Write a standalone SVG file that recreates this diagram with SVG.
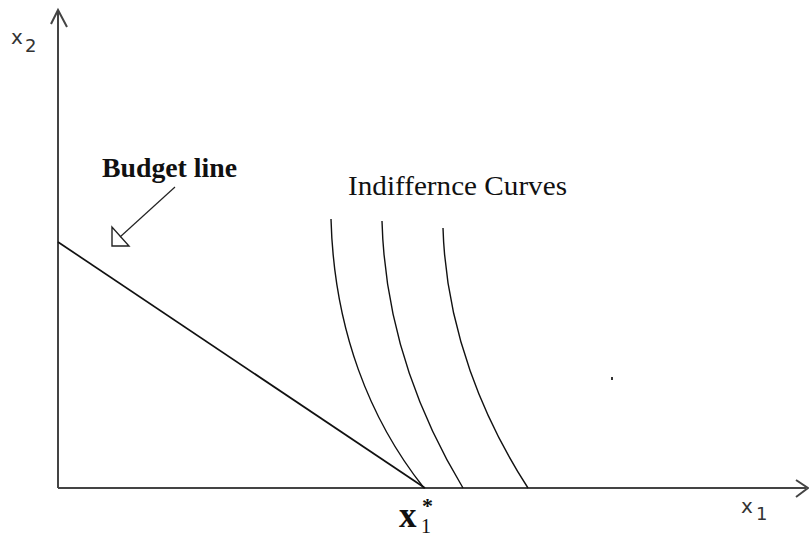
<svg xmlns="http://www.w3.org/2000/svg" width="809" height="537" viewBox="0 0 809 537">
<style>
.axis{stroke:#444;stroke-width:2;fill:none}
.curve{stroke:#111;stroke-width:1.4;fill:none}
.sans{font-family:"DejaVu Sans","Open Sans",sans-serif;fill:#333}
.serif{font-family:"Liberation Serif","Times New Roman",serif;fill:#111}
</style>
<rect width="809" height="537" fill="#fff"/>
<g id="axes">
<line class="axis" x1="58" y1="11" x2="58" y2="488"/>
<polyline class="axis" stroke-width="1.4" points="51,24 58,10 67,27"/>
<line class="axis" x1="58" y1="488" x2="806" y2="488"/>
<polyline class="axis" stroke-width="1.4" points="796,480 808,488 796,497"/>
</g>
<g id="labels">
<text class="sans" x="11" y="44" font-size="20">x</text>
<text class="sans" x="25" y="52" font-size="18">2</text>
<text class="sans" x="741" y="513" font-size="20">x</text>
<text class="sans" x="756" y="520" font-size="18">1</text>
<text class="serif" x="399" y="527" font-size="35" font-weight="bold">x</text>
<text class="serif" x="421" y="533" font-size="20">1<tspan x="422" y="513" font-size="22" font-weight="bold">*</tspan></text>
</g>
<g id="connectors">
<line id="budget-line" x1="58" y1="242" x2="425" y2="488" stroke="#111" stroke-width="1.7"/>
<path id="ic1" class="curve" d="M331,219 C334,330 370,420 424,488"/>
<path id="ic2" class="curve" d="M382,221 C385,330 422,420 463,488"/>
<path id="ic3" class="curve" d="M443,228 C446,330 484,420 528,488"/>
</g>
<g id="budget-label">
<text class="serif" x="102" y="177" font-size="27.5" font-weight="bold" textLength="135" lengthAdjust="spacingAndGlyphs">Budget line</text>
<line x1="175" y1="187" x2="120" y2="237" stroke="#222" stroke-width="1.2"/>
<polygon points="112,227 112,246 129,246" fill="none" stroke="#222" stroke-width="1.4"/>
</g>
<g id="ic-label">
<text class="serif" x="348" y="195" font-size="27.5" textLength="219" lengthAdjust="spacingAndGlyphs">Indiffernce Curves</text>
</g>
<rect x="611" y="377" width="2" height="3" fill="#333"/>
</svg>
